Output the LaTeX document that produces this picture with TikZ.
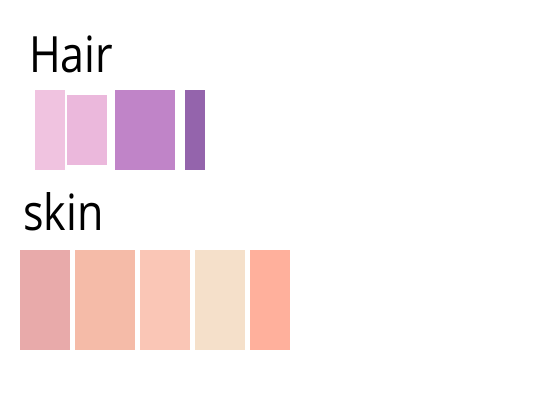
\documentclass[tikz,border=0pt]{standalone}
\usepackage{fontspec}
\setmainfont{Open Sans}
\newfontfamily\titlefont[FakeStretch=0.86]{Open Sans}
\definecolor{hairA}{HTML}{F0C3E0}
\definecolor{hairB}{HTML}{EBB8DC}
\definecolor{hairC}{HTML}{C084C8}
\definecolor{hairD}{HTML}{9464AC}
\definecolor{skinA}{HTML}{E8AAAA}
\definecolor{skinB}{HTML}{F5BBA8}
\definecolor{skinC}{HTML}{FAC6B6}
\definecolor{skinD}{HTML}{F5E0CA}
\definecolor{skinE}{HTML}{FFB09C}
\begin{document}
\begin{tikzpicture}[x=1pt,y=-1pt,swatch/.style={anchor=north west,inner sep=0,outer sep=0,draw=none},
  title/.style={anchor=base west,inner sep=0,font=\titlefont\fontsize{50}{60}\selectfont}]
\useasboundingbox (0,0) rectangle (550,400);
\node [title] (hair) at (29,72) {Hair};
\node [swatch,fill=hairA,minimum width=30pt,minimum height=80pt] (h1) at (35,90) {};
\node [swatch,fill=hairB,minimum width=40pt,minimum height=70pt] (h2) at (67,95) {};
\node [swatch,fill=hairC,minimum width=60pt,minimum height=80pt] (h3) at (115,90) {};
\node [swatch,fill=hairD,minimum width=20pt,minimum height=80pt] (h4) at (185,90) {};

\node [title] (skin) at (23,230) {skin};
\node [swatch,fill=skinA,minimum width=50pt,minimum height=100pt] (s1) at (20,250) {};
\node [swatch,fill=skinB,minimum width=60pt,minimum height=100pt] (s2) at (75,250) {};
\node [swatch,fill=skinC,minimum width=50pt,minimum height=100pt] (s3) at (140,250) {};
\node [swatch,fill=skinD,minimum width=50pt,minimum height=100pt] (s4) at (195,250) {};
\node [swatch,fill=skinE,minimum width=40pt,minimum height=100pt] (s5) at (250,250) {};
\end{tikzpicture}
\end{document}
